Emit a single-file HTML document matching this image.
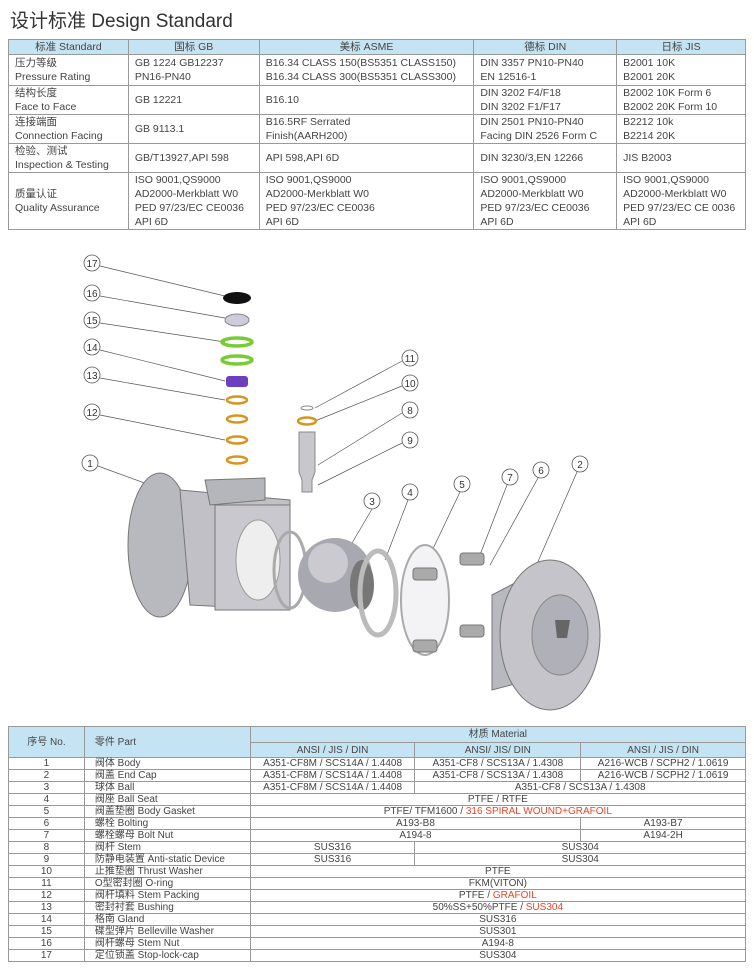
<!DOCTYPE html>
<html><head><meta charset="utf-8"><style>
body{margin:0;width:754px;height:968px;background:#fff;font-family:"Liberation Sans","Noto Sans CJK SC",sans-serif;color:#333;position:relative;overflow:hidden}
.title{position:absolute;left:10px;top:6px;font-size:19px;color:#333}
table{border-collapse:collapse;position:absolute;font-size:10.5px;color:#444}
td{border:1px solid #999;padding:0 6px;vertical-align:middle;line-height:14px}
#t1{left:8px;top:39px;width:738px}
#t1 tr.h td{background:#c5e4f3;text-align:center;height:13px}
#t2{left:8px;top:726px;width:738px;font-size:10px}
#t2 td{height:11px;line-height:11px;padding:0 3px;text-align:center}
#t2 tr.h td{background:#c5e4f3}
#t2 td.p{text-align:left;padding-left:10px}
.r{color:#e8452a}
</style></head><body>
<div class="title">设计标准 Design Standard</div>
<table id="t1">
<colgroup><col style="width:120px"><col style="width:131px"><col style="width:215px"><col style="width:143px"><col style="width:129px"></colgroup>
<tr class="h"><td>标准 Standard</td><td>国标 GB</td><td>美标 ASME</td><td>德标 DIN</td><td>日标 JIS</td></tr>
<tr style="height:31px"><td>压力等级<br>Pressure Rating</td><td>GB 1224 GB12237<br>PN16-PN40</td><td>B16.34 CLASS 150(BS5351 CLASS150)<br>B16.34 CLASS 300(BS5351 CLASS300)</td><td>DIN 3357 PN10-PN40<br>EN 12516-1</td><td>B2001 10K<br>B2001 20K</td></tr>
<tr style="height:28px"><td>结构长度<br>Face to Face</td><td>GB 12221</td><td>B16.10</td><td>DIN 3202 F4/F18<br>DIN 3202 F1/F17</td><td>B2002 10K Form 6<br>B2002 20K Form 10</td></tr>
<tr style="height:28px"><td>连接端面<br>Connection Facing</td><td>GB 9113.1</td><td>B16.5RF Serrated<br>Finish(AARH200)</td><td>DIN 2501 PN10-PN40<br>Facing DIN 2526 Form C</td><td>B2212 10k<br>B2214 20K</td></tr>
<tr style="height:28px"><td>检验、测试<br>Inspection &amp; Testing</td><td>GB/T13927,API 598</td><td>API 598,API 6D</td><td>DIN 3230/3,EN 12266</td><td>JIS B2003</td></tr>
<tr style="height:56px"><td>质量认证<br>Quality Assurance</td><td>ISO 9001,QS9000<br>AD2000-Merkblatt W0<br>PED 97/23/EC CE0036<br>API 6D</td><td>ISO 9001,QS9000<br>AD2000-Merkblatt W0<br>PED 97/23/EC CE0036<br>API 6D</td><td>ISO 9001,QS9000<br>AD2000-Merkblatt W0<br>PED 97/23/EC CE0036<br>API 6D</td><td>ISO 9001,QS9000<br>AD2000-Merkblatt W0<br>PED 97/23/EC CE 0036<br>API 6D</td></tr>
</table>

<svg style="position:absolute;left:0;top:240px" width="754" height="480" viewBox="0 240 754 480" font-family="Liberation Sans" font-size="10">
<g stroke="#555" stroke-width="0.7" fill="none">
<line x1="100" y1="266" x2="225" y2="296"/><line x1="100" y1="296" x2="225" y2="318"/><line x1="100" y1="323" x2="225" y2="342"/><line x1="100" y1="350" x2="225" y2="381"/><line x1="100" y1="378" x2="225" y2="400"/><line x1="100" y1="415" x2="225" y2="440"/><line x1="98" y1="466" x2="150" y2="485"/>
<line x1="402" y1="361" x2="315" y2="408"/><line x1="402" y1="386" x2="315" y2="421"/><line x1="402" y1="413" x2="318" y2="465"/><line x1="402" y1="443" x2="318" y2="485"/>
<line x1="372" y1="509" x2="345" y2="555"/><line x1="408" y1="500" x2="385" y2="560"/><line x1="460" y1="492" x2="430" y2="555"/><line x1="507" y1="485" x2="478" y2="560"/><line x1="538" y1="478" x2="490" y2="565"/><line x1="577" y1="472" x2="530" y2="580"/>
</g>
<g stroke="#555" stroke-width="0.8" fill="#fff">
<circle cx="92" cy="263" r="8"/><circle cx="92" cy="293" r="8"/><circle cx="92" cy="320" r="8"/><circle cx="92" cy="347" r="8"/><circle cx="92" cy="375" r="8"/><circle cx="92" cy="412" r="8"/><circle cx="90" cy="463" r="8"/>
<circle cx="410" cy="358" r="8"/><circle cx="410" cy="383" r="8"/><circle cx="410" cy="410" r="8"/><circle cx="410" cy="440" r="8"/>
<circle cx="580" cy="464" r="8"/><circle cx="541" cy="470" r="8"/><circle cx="510" cy="477" r="8"/><circle cx="462" cy="484" r="8"/><circle cx="410" cy="492" r="8"/><circle cx="372" cy="501" r="8"/>
</g>
<g fill="#333" text-anchor="middle">
<text x="92" y="267">17</text><text x="92" y="297">16</text><text x="92" y="324">15</text><text x="92" y="351">14</text><text x="92" y="379">13</text><text x="92" y="416">12</text><text x="90" y="467">1</text>
<text x="410" y="362">11</text><text x="410" y="387">10</text><text x="410" y="414">8</text><text x="410" y="444">9</text>
<text x="580" y="468">2</text><text x="541" y="474">6</text><text x="510" y="481">7</text><text x="462" y="488">5</text><text x="410" y="496">4</text><text x="372" y="505">3</text>
</g>
<ellipse cx="237" cy="298" rx="14" ry="6" fill="#111"/>
<ellipse cx="237" cy="320" rx="12" ry="6" fill="#ccd" stroke="#888"/>
<ellipse cx="237" cy="342" rx="15" ry="4" fill="none" stroke="#7c3" stroke-width="3.5"/>
<ellipse cx="237" cy="360" rx="15" ry="4" fill="none" stroke="#7c3" stroke-width="3.5"/>
<rect x="226" y="376" width="22" height="11" rx="3" fill="#6b3fc0"/>
<g fill="none" stroke="#d8941c" stroke-width="2.5"><ellipse cx="237" cy="400" rx="10" ry="3.5"/><ellipse cx="237" cy="419" rx="10" ry="3.5"/><ellipse cx="237" cy="440" rx="10" ry="3.5"/><ellipse cx="237" cy="460" rx="10" ry="3.5"/><ellipse cx="307" cy="421" rx="9" ry="3.5"/></g>
<ellipse cx="307" cy="408" rx="6" ry="2" fill="none" stroke="#888"/>
<path d="M299 432h16v40l-3 8v12h-10v-12l-3-8z" fill="#c8c8cc" stroke="#888"/>
<ellipse cx="160" cy="545" rx="32" ry="72" fill="#b8b8bf" stroke="#777"/>
<path d="M180 490 L290 500 L290 610 L190 605 Z" fill="#c0c0c6" stroke="#777"/>
<path d="M205 480 L265 478 L265 500 L210 505 Z" fill="#b5b5bc" stroke="#777"/>
<rect x="215" y="505" width="75" height="105" fill="#c8c8ce" stroke="#777"/>
<ellipse cx="258" cy="560" rx="22" ry="40" fill="#eee" stroke="#999"/>
<ellipse cx="290" cy="570" rx="16" ry="38" fill="none" stroke="#aaa" stroke-width="3"/>
<circle cx="335" cy="575" r="37" fill="#a8a8b0"/>
<circle cx="328" cy="563" r="20" fill="#d8d8de" opacity=".7"/>
<ellipse cx="362" cy="585" rx="12" ry="25" fill="#777"/>
<ellipse cx="378" cy="593" rx="18" ry="42" fill="none" stroke="#bbb" stroke-width="5"/>
<ellipse cx="425" cy="600" rx="24" ry="55" fill="#f3f3f5" stroke="#aaa" stroke-width="2"/>
<g fill="#aaa" stroke="#777"><rect x="413" y="568" width="24" height="12" rx="3"/><rect x="413" y="640" width="24" height="12" rx="3"/><rect x="460" y="553" width="24" height="12" rx="3"/><rect x="460" y="625" width="24" height="12" rx="3"/></g>
<path d="M492 595 L530 575 L530 680 L492 690 Z" fill="#b8b8bf" stroke="#777"/>
<ellipse cx="550" cy="635" rx="50" ry="75" fill="#c4c4ca" stroke="#777"/>
<ellipse cx="560" cy="635" rx="28" ry="40" fill="#b0b0b8" stroke="#888"/>
<path d="M555 620h15l-3 18h-10z" fill="#666"/>
</svg>

<table id="t2">
<colgroup><col style="width:76px"><col style="width:166px"><col style="width:165px"><col style="width:166px"><col style="width:165px"></colgroup>
<tr class="h"><td rowspan="2">序号 No.</td><td rowspan="2" class="p">零件 Part</td><td colspan="3" style="height:15px">材质 Material</td></tr>
<tr class="h"><td style="height:14px">ANSI / JIS / DIN</td><td>ANSI/ JIS/ DIN</td><td>ANSI / JIS / DIN</td></tr>
<tr><td>1</td><td class="p">阀体 Body</td><td>A351-CF8M / SCS14A / 1.4408</td><td>A351-CF8 / SCS13A / 1.4308</td><td>A216-WCB / SCPH2 / 1.0619</td></tr>
<tr><td>2</td><td class="p">阀盖 End Cap</td><td>A351-CF8M / SCS14A / 1.4408</td><td>A351-CF8 / SCS13A / 1.4308</td><td>A216-WCB / SCPH2 / 1.0619</td></tr>
<tr><td>3</td><td class="p">球体 Ball</td><td>A351-CF8M / SCS14A / 1.4408</td><td colspan="2">A351-CF8 / SCS13A / 1.4308</td></tr>
<tr><td>4</td><td class="p">阀座 Ball Seat</td><td colspan="3">PTFE / RTFE</td></tr>
<tr><td>5</td><td class="p">阀盖垫圈 Body Gasket</td><td colspan="3">PTFE/ TFM1600 / <span class="r">316 SPIRAL WOUND+GRAFOIL</span></td></tr>
<tr><td>6</td><td class="p">螺栓 Bolting</td><td colspan="2">A193-B8</td><td>A193-B7</td></tr>
<tr><td>7</td><td class="p">螺栓螺母 Bolt Nut</td><td colspan="2">A194-8</td><td>A194-2H</td></tr>
<tr><td>8</td><td class="p">阀杆 Stem</td><td>SUS316</td><td colspan="2">SUS304</td></tr>
<tr><td>9</td><td class="p">防静电装置 Anti-static Device</td><td>SUS316</td><td colspan="2">SUS304</td></tr>
<tr><td>10</td><td class="p">止推垫圈 Thrust Washer</td><td colspan="3">PTFE</td></tr>
<tr><td>11</td><td class="p">O型密封圈 O-ring</td><td colspan="3">FKM(VITON)</td></tr>
<tr><td>12</td><td class="p">阀杆填料 Stem Packing</td><td colspan="3">PTFE / <span class="r">GRAFOIL</span></td></tr>
<tr><td>13</td><td class="p">密封衬套 Bushing</td><td colspan="3">50%SS+50%PTFE / <span class="r">SUS304</span></td></tr>
<tr><td>14</td><td class="p">格南 Gland</td><td colspan="3">SUS316</td></tr>
<tr><td>15</td><td class="p">碟型弹片 Belleville Washer</td><td colspan="3">SUS301</td></tr>
<tr><td>16</td><td class="p">阀杆螺母 Stem Nut</td><td colspan="3">A194-8</td></tr>
<tr><td>17</td><td class="p">定位锁盖 Stop-lock-cap</td><td colspan="3">SUS304</td></tr>
</table>
</body></html>
